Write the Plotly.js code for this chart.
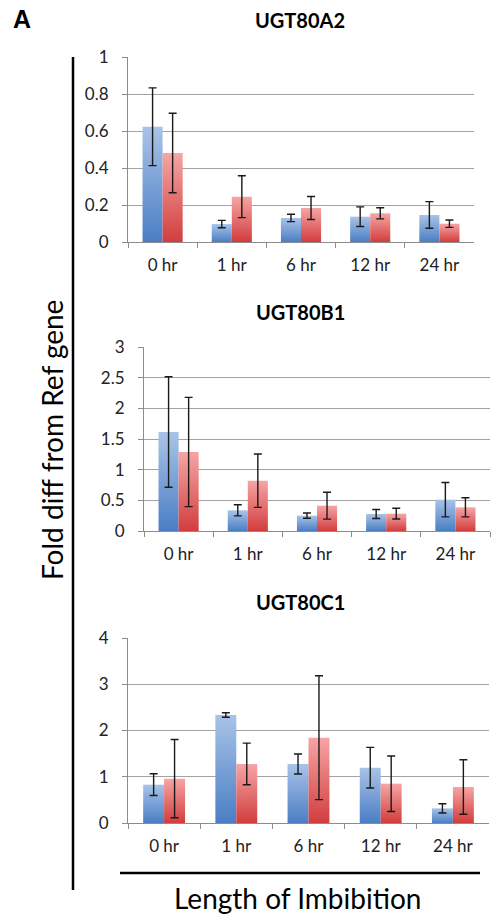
<!DOCTYPE html>
<html>
<head>
<meta charset="utf-8">
<script src="https://cdn.plot.ly/plotly-3.0.1.min.js"></script>
<style>
html,body{margin:0;padding:0;background:#fff;}
#chart{width:492px;height:918px;}
</style>
</head>
<body>
<div id="chart"></div>
<script>
const categories = ["0 hr", "1 hr", "6 hr", "12 hr", "24 hr"];
const panelTitles = ["UGT80A2", "UGT80B1", "UGT80C1"];

const a2Blue = [0.623, 0.097, 0.130, 0.137, 0.146];
const a2BlueErr = [0.21, 0.02, 0.02, 0.053, 0.072];
const a2Red = [0.481, 0.245, 0.184, 0.155, 0.099];
const a2RedErr = [0.215, 0.113, 0.062, 0.030, 0.020];

const b1Blue = [1.614, 0.337, 0.250, 0.277, 0.511];
const b1BlueErr = [0.90, 0.09, 0.043, 0.073, 0.28];
const b1Red = [1.288, 0.820, 0.413, 0.283, 0.386];
const b1RedErr = [0.89, 0.435, 0.22, 0.088, 0.155];

const c1Blue = [0.829, 2.335, 1.276, 1.196, 0.317];
const c1BlueErr = [0.235, 0.05, 0.215, 0.44, 0.10];
const c1Red = [0.959, 1.276, 1.845, 0.850, 0.778];
const c1RedErr = [0.845, 0.45, 1.34, 0.60, 0.59];

const yTicks = [[0, 0.2, 0.4, 0.6, 0.8, 1], [0, 0.5, 1, 1.5, 2, 2.5, 3], [0, 1, 2, 3, 4]];
const yRanges = [[0, 1], [0, 3], [0, 4]];

const panels = [
  {blue: a2Blue, blueErr: a2BlueErr, red: a2Red, redErr: a2RedErr},
  {blue: b1Blue, blueErr: b1BlueErr, red: b1Red, redErr: b1RedErr},
  {blue: c1Blue, blueErr: c1BlueErr, red: c1Red, redErr: c1RedErr}
];

const W = 492, H = 918;
// pixel boxes for plot areas [x0, x1, yTop, yBottom]
const boxes = [[128, 474, 57, 242], [144, 490, 347, 531], [128, 489, 638, 823]];

const errStyle = {type: 'data', color: '#1a1a1a', thickness: 1.4, width: 4};
const traces = [];
panels.forEach((p, i) => {
  const xa = i === 0 ? 'x' : 'x' + (i + 1);
  const ya = i === 0 ? 'y' : 'y' + (i + 1);
  traces.push({type: 'bar', x: categories, y: p.blue, xaxis: xa, yaxis: ya,
    marker: {color: '#6f98d3'}, error_y: Object.assign({array: p.blueErr}, errStyle),
    showlegend: false, name: 'blue'});
  traces.push({type: 'bar', x: categories, y: p.red, xaxis: xa, yaxis: ya,
    marker: {color: '#e66e6e'}, error_y: Object.assign({array: p.redErr}, errStyle),
    showlegend: false, name: 'red'});
});

const FONT = 'Lato, "Open Sans", sans-serif';
const layout = {
  width: W, height: H,
  margin: {l: 0, r: 0, t: 0, b: 0},
  paper_bgcolor: '#fff', plot_bgcolor: '#fff',
  barmode: 'group', bargap: 0.42, bargroupgap: 0,
  font: {family: FONT, color: '#222', size: 17},
  shapes: [
    {type: 'line', xref: 'paper', yref: 'paper', x0: 73 / W, x1: 73 / W, y0: 1 - 57 / H, y1: 1 - 890 / H,
     line: {color: '#000', width: 2.5}},
    {type: 'line', xref: 'paper', yref: 'paper', x0: 120 / W, x1: 480 / W, y0: 1 - 873 / H, y1: 1 - 873 / H,
     line: {color: '#000', width: 2.5}}
  ],
  annotations: [
    {text: '<b>A</b>', xref: 'paper', yref: 'paper', x: 22 / W, y: 1 - 19 / H, showarrow: false,
     xanchor: 'center', yanchor: 'middle',
     font: {family: 'Liberation Sans, Arial, sans-serif', size: 25, color: '#000'}},
    {text: 'Fold diff from Ref gene', xref: 'paper', yref: 'paper', x: 52 / W, y: 1 - 440 / H,
     xanchor: 'center', yanchor: 'middle',
     showarrow: false, textangle: -90, font: {family: FONT, size: 28, color: '#000'}},
    {text: 'Length of Imbibition', xref: 'paper', yref: 'paper', x: 297 / W, y: 1 - 898 / H,
     xanchor: 'center', yanchor: 'middle',
     showarrow: false, font: {family: FONT, size: 28, color: '#000'}}
  ]
};
const titleY = [20, 312, 602];
boxes.forEach((b, i) => {
  const sx = i === 0 ? '' : String(i + 1);
  layout['xaxis' + sx] = {
    domain: [b[0] / W, b[1] / W], anchor: 'y' + sx,
    showline: true, linecolor: '#8c8c8c', linewidth: 1,
    ticks: 'outside', tickson: 'boundaries', ticklen: 5, tickcolor: '#8c8c8c',
    ticklabelstandoff: 8, showgrid: false, fixedrange: true,
    tickfont: {family: FONT, size: 17, color: '#222'}
  };
  layout['yaxis' + sx] = {
    domain: [1 - b[3] / H, 1 - b[2] / H], anchor: 'x' + sx,
    range: yRanges[i], tickvals: yTicks[i], ticktext: yTicks[i].map(String),
    showline: true, linecolor: '#8c8c8c', linewidth: 1,
    ticks: 'outside', ticklen: 5, tickcolor: '#8c8c8c',
    ticklabelstandoff: 10,
    showgrid: true, gridcolor: '#a3a3a3', gridwidth: 1, zeroline: false, fixedrange: true,
    tickfont: {family: FONT, size: 17, color: '#222'}
  };
  layout.annotations.push({
    text: '<b>' + panelTitles[i] + '</b>', xref: 'paper', yref: 'paper',
    x: 300 / W, y: 1 - titleY[i] / H, showarrow: false, xanchor: 'center', yanchor: 'middle',
    font: {family: 'Lato, "Liberation Sans", sans-serif', size: 20, color: '#000'}
  });
});

Plotly.newPlot('chart', traces, layout, {staticPlot: true}).then(gd => {
  const svg = gd.querySelector('svg.main-svg');
  const ns = 'http://www.w3.org/2000/svg';
  let defs = svg.querySelector('defs');
  if (!defs) { defs = document.createElementNS(ns, 'defs'); svg.insertBefore(defs, svg.firstChild); }
  function grad(id, top, bottom) {
    const g = document.createElementNS(ns, 'linearGradient');
    g.setAttribute('id', id);
    g.setAttribute('x1', '0'); g.setAttribute('y1', '0'); g.setAttribute('x2', '0'); g.setAttribute('y2', '1');
    const s1 = document.createElementNS(ns, 'stop'); s1.setAttribute('offset', '0'); s1.setAttribute('stop-color', top);
    const s2 = document.createElementNS(ns, 'stop'); s2.setAttribute('offset', '1'); s2.setAttribute('stop-color', bottom);
    g.appendChild(s1); g.appendChild(s2); defs.appendChild(g);
  }
  grad('gBlue', '#a9c3e8', '#4a7ec4');
  grad('gRed', '#f6a5a5', '#d23d3d');
  gd.querySelectorAll('.trace.bars').forEach((t, idx) => {
    const id = idx % 2 === 0 ? 'gBlue' : 'gRed';
    t.querySelectorAll('.point path').forEach(p => { p.style.fill = 'url(#' + id + ')'; });
  });
});
</script>
</body>
</html>
